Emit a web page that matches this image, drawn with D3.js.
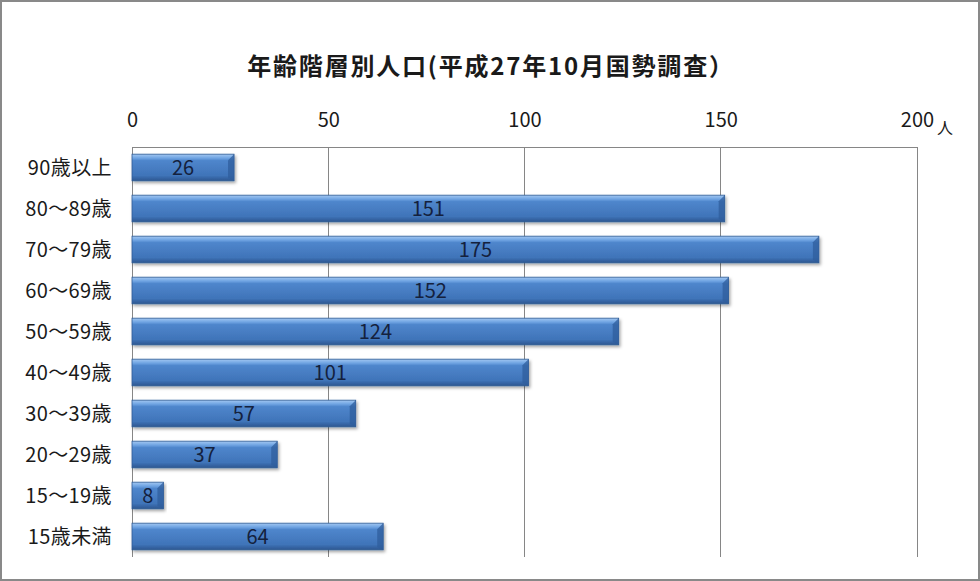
<!DOCTYPE html>
<html>
<head>
<meta charset="utf-8">
<script src="https://cdn.jsdelivr.net/npm/d3@7"></script>
<style>
  body { margin: 0; background: #fff; }
  svg { display: block; font-family: "Noto Sans CJK JP", "Noto Sans", sans-serif; }
</style>
</head>
<body>
<div id="chart"></div>
<script>
// data
const categories = ["90歳以上", "80～89歳", "70～79歳", "60～69歳", "50～59歳",
                    "40～49歳", "30～39歳", "20～29歳", "15～19歳", "15歳未満"];
const population = [26, 151, 175, 152, 124, 101, 57, 37, 8, 64];
const xTicks = [0, 50, 100, 150, 200];
const titleText = "年齢階層別人口(平成27年10月国勢調査）";
const unitText = "人";

const W = 980, H = 581;
const margin = { top: 147, right: 63, bottom: 24, left: 132 };
const width = W - margin.left - margin.right;
const height = H - margin.top - margin.bottom;

const rows = categories.map((c, i) => ({ cat: c, value: population[i] }));

const svg = d3.select("#chart").append("svg")
    .attr("width", W)
    .attr("height", H);

// gradient + shadow for the bars
const defs = svg.append("defs");
const grad = defs.append("linearGradient")
    .attr("id", "barGrad")
    .attr("x1", 0).attr("y1", 0).attr("x2", 0).attr("y2", 1);
grad.append("stop").attr("offset", "0%").attr("stop-color", "#a3c8f2");
grad.append("stop").attr("offset", "15%").attr("stop-color", "#6ea3e2");
grad.append("stop").attr("offset", "24%").attr("stop-color", "#4f86cc");
grad.append("stop").attr("offset", "80%").attr("stop-color", "#3f74b9");
grad.append("stop").attr("offset", "100%").attr("stop-color", "#2b5690");

const shadow = defs.append("filter").attr("id", "shadow")
    .attr("x", "-5%").attr("y", "-20%").attr("width", "115%").attr("height", "160%");
shadow.append("feDropShadow")
    .attr("dx", 1.5).attr("dy", 2).attr("stdDeviation", 1.5)
    .attr("flood-color", "#000").attr("flood-opacity", 0.35);

// outer frame
svg.append("rect")
    .attr("x", 1).attr("y", 1)
    .attr("width", W - 2).attr("height", H - 2)
    .attr("fill", "#fff")
    .attr("stroke", "#898989")
    .attr("stroke-width", 2);

const g = svg.append("g")
    .attr("transform", "translate(" + margin.left + "," + margin.top + ")");

// scales
const x = d3.scaleLinear().domain([0, 200]).range([0, width]);
const y = d3.scaleBand()
    .domain(categories)
    .range([0, height])
    .paddingInner(0.35)
    .paddingOuter(0.175);

// gridlines
g.selectAll(".grid")
    .data(xTicks)
    .enter()
    .append("line")
    .attr("class", "grid")
    .attr("x1", d => x(d)).attr("x2", d => x(d))
    .attr("y1", 0).attr("y2", height)
    .attr("stroke", "#868686")
    .attr("stroke-width", 1)
    .attr("shape-rendering", "crispEdges");

// top axis
const xAxis = g.append("g")
    .call(d3.axisTop(x).tickValues(xTicks).tickSize(0).tickPadding(20));
xAxis.select(".domain")
    .attr("stroke", "#868686")
    .attr("shape-rendering", "crispEdges");
xAxis.selectAll("text")
    .style("font-family", "'Noto Sans CJK JP', sans-serif")
    .style("font-size", "20px")
    .attr("fill", "#1a1a1a");

// unit label
g.append("text")
    .attr("x", x(200) + 28)
    .attr("y", -13)
    .attr("text-anchor", "middle")
    .style("font-size", "16px")
    .attr("fill", "#1a1a1a")
    .text(unitText);

// category labels
g.selectAll(".cat")
    .data(rows)
    .enter()
    .append("text")
    .attr("class", "cat")
    .attr("x", -20)
    .attr("y", d => y(d.cat) + y.bandwidth() / 2)
    .attr("dy", "0.36em")
    .attr("text-anchor", "end")
    .style("font-size", "20px")
    .style("letter-spacing", "0.4px")
    .attr("fill", "#1a1a1a")
    .text(d => d.cat);

// bars
const bars = g.selectAll(".bar")
    .data(rows)
    .enter()
    .append("g")
    .attr("class", "bar")
    .attr("transform", d => "translate(0," + y(d.cat) + ")");

bars.append("rect")
    .attr("x", 0)
    .attr("y", 0)
    .attr("width", d => x(d.value))
    .attr("height", y.bandwidth())
    .attr("fill", "url(#barGrad)")
    .attr("stroke", "#2e5a94")
    .attr("stroke-width", 0.8)
    .attr("filter", "url(#shadow)");

// bevelled right end
bars.append("path")
    .attr("d", d => {
        const r = x(d.value), h = y.bandwidth(), b = Math.min(6, r / 2);
        return "M" + r + ",0 L" + r + "," + h + " L" + (r - b) + "," + (h - 3) +
               " L" + (r - b) + "," + b + " Z";
    })
    .attr("fill", "#2f5e9c")
    .attr("opacity", 0.75);

// value labels
bars.append("text")
    .attr("x", d => x(d.value) / 2)
    .attr("y", y.bandwidth() / 2)
    .attr("dy", "0.38em")
    .attr("text-anchor", "middle")
    .style("font-size", "20px")
    .attr("fill", "#14213d")
    .text(d => d.value);

// title
svg.append("text")
    .attr("x", 491)
    .attr("y", 75)
    .attr("text-anchor", "middle")
    .style("font-size", "24px")
    .style("font-weight", "bold")
    .style("letter-spacing", "1.8px")
    .attr("fill", "#1a1a1a")
    .text(titleText);
</script>
</body>
</html>
